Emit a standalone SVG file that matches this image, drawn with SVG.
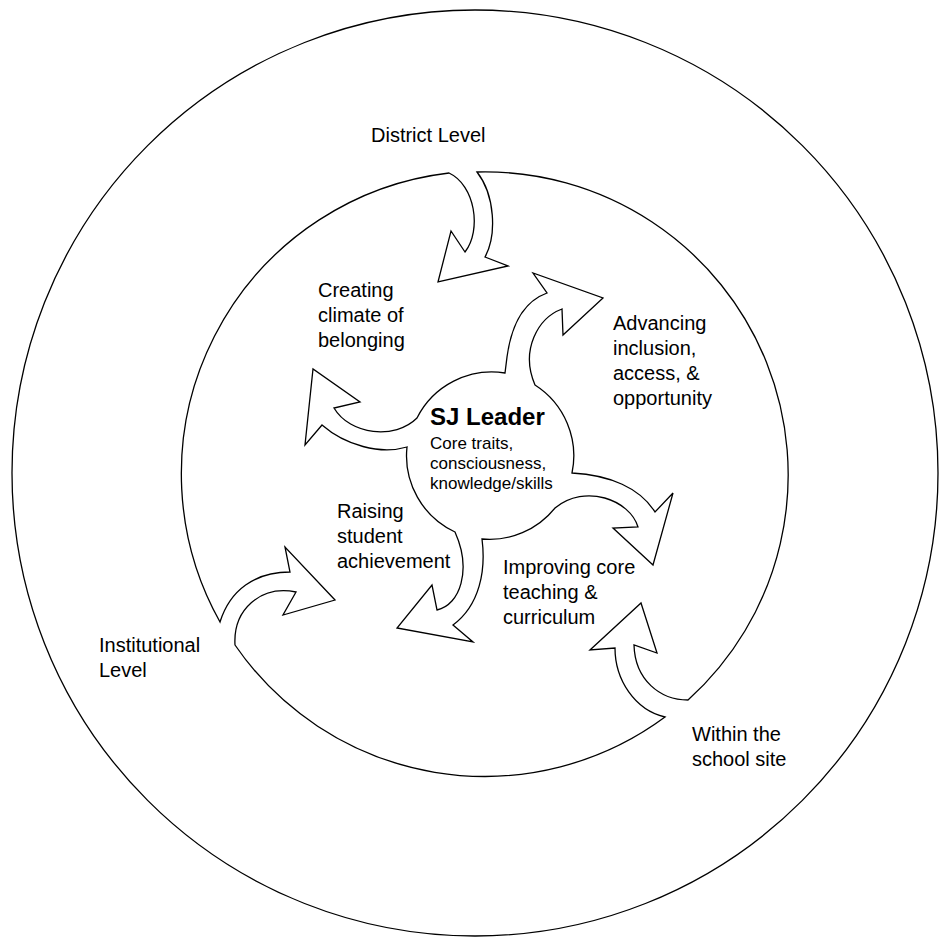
<svg xmlns="http://www.w3.org/2000/svg" width="939" height="944" viewBox="0 0 939 944">
<style>
.ln{fill:none;stroke:#000;stroke-width:1.3;stroke-linejoin:miter}
.t{font-family:"Liberation Sans",Arial,sans-serif;font-size:20px;fill:#000}
.s{font-family:"Liberation Sans",Arial,sans-serif;font-size:17px;fill:#000}
.b{font-family:"Liberation Sans",Arial,sans-serif;font-size:24px;font-weight:bold;fill:#000}
</style>
<rect width="939" height="944" fill="#fff"/>
<g id="outer-circle">
<circle class="ln" cx="475" cy="473" r="463"/>
</g>
<g id="middle-ring">
<path class="ln" d="M477 172 A303 303 0 0 1 688 700 C660 700 635 680 634 645 L657 653 L641 603 L590 650 L615 648 C615 680 635 710 665 717 A303 303 0 0 1 235 645 C233 610 260 585 296 592 L283 615 L335 600 L285 547 L290 572 C255 572 230 590 220 622 A303 303 0 0 1 449 173 C475 185 482 230 465 252 L451 231 L438 282 L508 266 L485 257 C497 235 495 195 477 172 Z"/>
</g>
<g id="sj-leader">
<path class="ln" d="M505 373 L507 357 Q514 305 547 293 L533 273 L603 298 L563 335 L562 309 C538 318 520 350 535 385 A84 84 0 0 1 572 473 C610 475 640 488 655 512 L673 493 L653 565 L613 528 L638 527 C630 500 585 483 555 508 A84 84 0 0 1 482 539 C486 570 480 605 453 625 L473 642 L397 628 L432 585 L437 610 C460 605 472 570 455 532 A84 84 0 0 1 407 447 C380 455 345 445 322 425 L305 445 L313 369 L360 402 L334 408 C350 435 395 440 417 418 A84 84 0 0 1 505 373 Z"/>
<text class="b" x="430" y="425">SJ Leader</text>
<text class="s" x="430" y="449">Core traits,</text>
<text class="s" x="430" y="469">consciousness,</text>
<text class="s" x="430" y="489">knowledge/skills</text>
</g>
<g id="district-level"><text class="t" x="371" y="142">District Level</text></g>
<g id="institutional-level"><text class="t" x="99" y="652">Institutional</text><text class="t" x="99" y="677">Level</text></g>
<g id="school-site"><text class="t" x="692" y="741">Within the</text><text class="t" x="692" y="766">school site</text></g>
<g id="climate"><text class="t" x="318" y="297">Creating</text><text class="t" x="318" y="322">climate of</text><text class="t" x="318" y="347">belonging</text></g>
<g id="inclusion"><text class="t" x="613" y="330">Advancing</text><text class="t" x="613" y="355">inclusion,</text><text class="t" x="613" y="380">access, &amp;</text><text class="t" x="613" y="405">opportunity</text></g>
<g id="achievement"><text class="t" x="337" y="518">Raising</text><text class="t" x="337" y="543">student</text><text class="t" x="337" y="568">achievement</text></g>
<g id="teaching"><text class="t" x="503" y="574">Improving core</text><text class="t" x="503" y="599">teaching &amp;</text><text class="t" x="503" y="624">curriculum</text></g>
</svg>
